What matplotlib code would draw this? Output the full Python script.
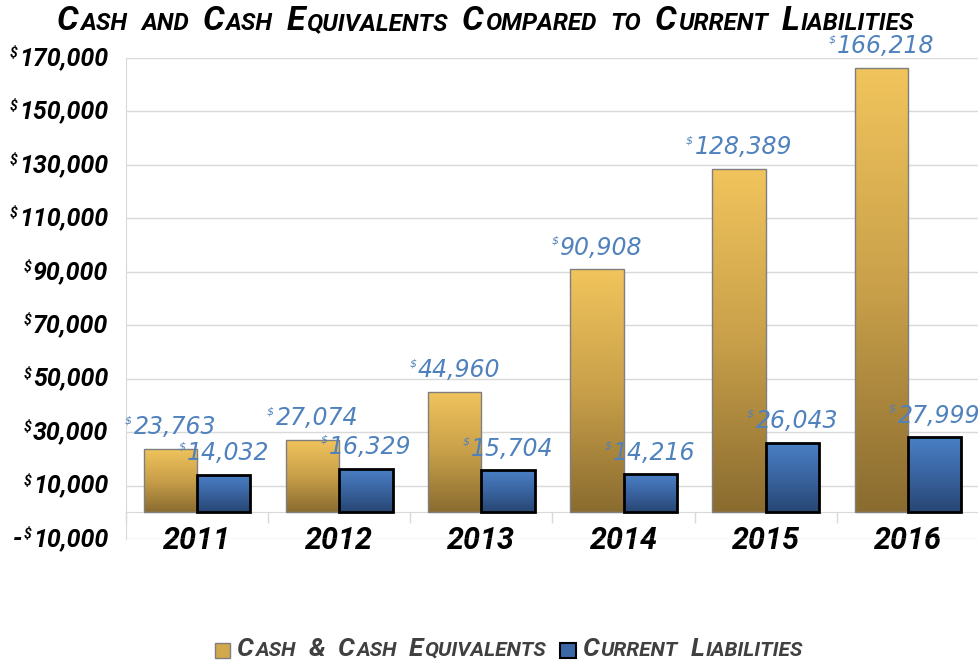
import numpy as np
import matplotlib
matplotlib.use("Agg")
import matplotlib.pyplot as plt
from matplotlib.colors import LinearSegmentedColormap
from matplotlib.offsetbox import TextArea, HPacker, DrawingArea, AnchoredOffsetbox, AnnotationBbox
from matplotlib.patches import Rectangle
from matplotlib.ticker import FixedLocator

# data
years = ["2011", "2012", "2013", "2014", "2015", "2016"]
cash = [23763, 27074, 44960, 90908, 128389, 166218]
liabilities = [14032, 16329, 15704, 14216, 26043, 27999]
y_ticks = [-10000, 10000, 30000, 50000, 70000, 90000, 110000, 130000, 150000, 170000]
title = "Cash and Cash Equivalents Compared to Current Liabilities"
series_names = ["Cash & Cash Equivalents", "Current Liabilities"]

FONT = dict(family=["Roboto", "DejaVu Sans"], style="italic", weight="bold")
LABEL_FONT = dict(family="DejaVu Sans", style="italic", color="#4F81BD")
gold_cmap = LinearSegmentedColormap.from_list("gold", ["#8A6C30", "#C9A04A", "#F1C45C"])
blue_cmap = LinearSegmentedColormap.from_list("blue", ["#274673", "#3A64A0", "#4A80C6"])


def money_box(v, size, small, props):
    # number with a small raised dollar sign in front
    kids = []
    if v < 0:
        kids.append(TextArea("-", textprops=dict(size=size, **props)))
    kids.append(TextArea("$", textprops=dict(size=small, **props)))
    kids.append(TextArea(f"{abs(int(v)):,}", textprops=dict(size=size, **props)))
    return HPacker(children=kids, pad=0, sep=1, align="top")


def small_caps(text, big, small, color):
    # fake small caps: capitals large, lowercase letters as small capitals
    words = []
    for word in text.split(" "):
        runs = []
        cur, cur_big = "", None
        for ch in word:
            is_big = not ch.islower()
            if cur and is_big != cur_big:
                runs.append((cur, cur_big))
                cur = ""
            cur += ch
            cur_big = is_big
        runs.append((cur, cur_big))
        kids = [TextArea(r.upper(), textprops=dict(size=big if b else small, color=color, **FONT))
                for r, b in runs]
        words.append(HPacker(children=kids, pad=0, sep=1, align="baseline"))
    return words


fig = plt.figure(figsize=(9.79, 6.61), dpi=100)
ax = fig.add_axes([126 / 979, 1 - 539 / 661, 1 - 126 / 979, (539 - 58) / 661])

for s in ["top", "right"]:
    ax.spines[s].set_visible(False)
ax.spines["left"].set_color("#D9D9D9")
ax.spines["bottom"].set_position(("data", 0))
ax.spines["bottom"].set_color("#D9D9D9")

x = np.arange(len(years))
w = 0.375
grad = np.linspace(0, 1, 256).reshape(-1, 1)

bars_cash = ax.bar(x - w / 2, cash, w, fill=False, edgecolor="#7F7F7F", linewidth=1, zorder=3)
bars_liab = ax.bar(x + w / 2, liabilities, w, fill=False, edgecolor="black", linewidth=2, zorder=3)

for bars, cmap in [(bars_cash, gold_cmap), (bars_liab, blue_cmap)]:
    for p in bars:
        x0, y0 = p.get_xy()
        im = ax.imshow(grad, cmap=cmap, extent=[x0, x0 + p.get_width(), y0, y0 + p.get_height()],
                       origin="lower", aspect="auto", zorder=2)
        im.set_clip_path(p)

for bars, vals in [(bars_cash, cash), (bars_liab, liabilities)]:
    for p, v in zip(bars, vals):
        ab = AnnotationBbox(money_box(v, 17, 8, LABEL_FONT), (p.get_x() + p.get_width() / 2, v),
                            xybox=(0, 7), boxcoords="offset points", box_alignment=(0.5, 0),
                            frameon=False, pad=0, zorder=5)
        ax.add_artist(ab)

ax.set_xlim(-0.5, len(years) - 0.5)
ax.set_ylim(-10000, 170000)

ax.yaxis.set_major_locator(FixedLocator(y_ticks))
ax.grid(axis="y", color="#D9D9D9", linewidth=1, zorder=0)
ax.set_axisbelow(True)
ax.tick_params(axis="y", length=0, labelleft=False)

# y tick labels drawn as boxes so the dollar sign can be small
for v in y_ticks:
    ab = AnnotationBbox(money_box(v, 18, 10, dict(color="black", **FONT)), (0, v),
                        xycoords=ax.get_yaxis_transform(), xybox=(-13, 0),
                        boxcoords="offset points", box_alignment=(1, 0.5),
                        frameon=False, pad=0, annotation_clip=False)
    ax.add_artist(ab)

ax.set_xticks(x)
ax.set_xticklabels(years, size=22, **FONT)
ax.set_xticks(np.arange(-0.5, len(years)), minor=True)
ax.tick_params(axis="x", which="major", length=0, pad=10)
ax.tick_params(axis="x", which="minor", length=8, color="#D9D9D9", width=1)

# title in small caps
title_box = HPacker(children=small_caps(title, 24.5, 17.5, "black"), pad=0, sep=10, align="baseline")
fig.add_artist(AnchoredOffsetbox(loc="center", child=title_box, frameon=False, pad=0, borderpad=0,
                                 bbox_to_anchor=(0.496, 0.968), bbox_transform=fig.transFigure))

# legend at the bottom
items = []
for name, face, edge, lw in [(series_names[0], "#D2A84C", "#7F7F7F", 1),
                             (series_names[1], "#3C68A8", "black", 1.5)]:
    da = DrawingArea(13, 13, 0, 0)
    da.add_artist(Rectangle((0, 0), 11, 11, facecolor=face, edgecolor=edge, linewidth=lw))
    words = HPacker(children=small_caps(name, 19, 15, "#404040"), pad=0, sep=9, align="baseline")
    items.append(HPacker(children=[da, words], pad=0, sep=3, align="center"))
legend_box = HPacker(children=items, pad=0, sep=10, align="center")
fig.add_artist(AnchoredOffsetbox(loc="center", child=legend_box, frameon=False, pad=0, borderpad=0,
                                 bbox_to_anchor=(0.52, 1 - 649 / 661), bbox_transform=fig.transFigure))

fig.savefig("out.png", dpi=100)
